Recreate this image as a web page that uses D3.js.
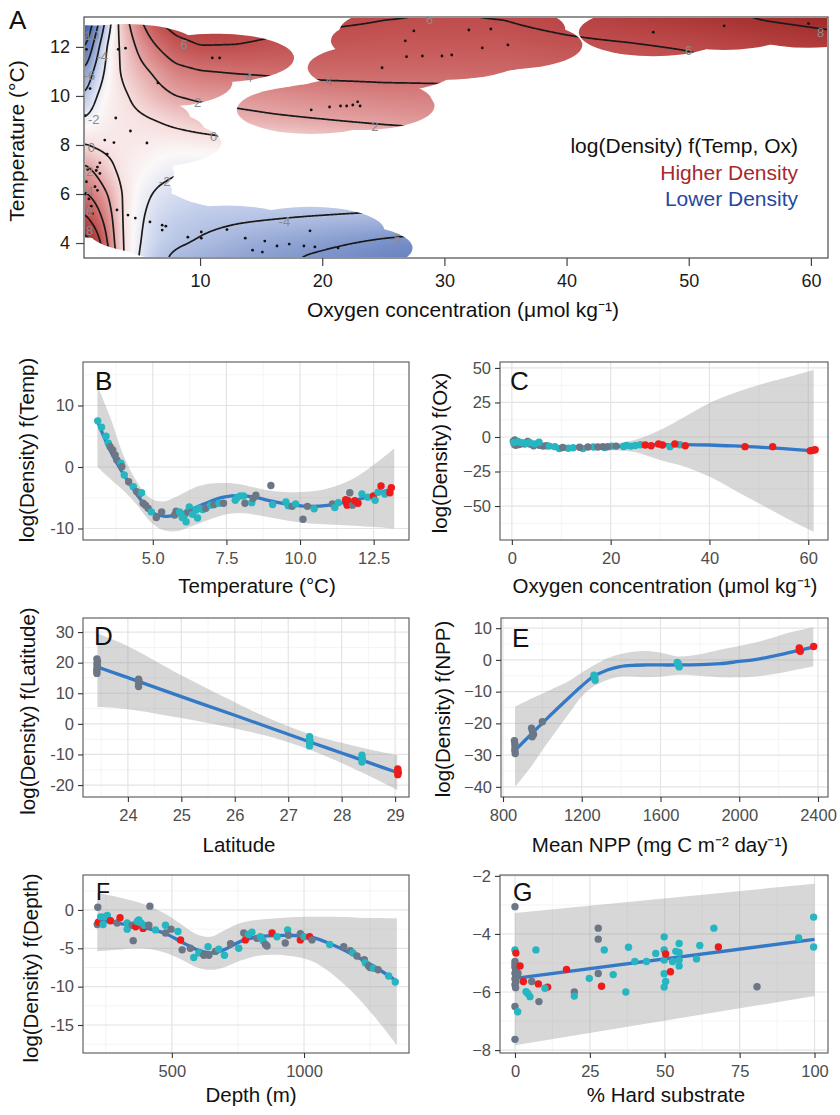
<!DOCTYPE html>
<html><head><meta charset="utf-8">
<script src="https://cdn.jsdelivr.net/npm/d3@7"></script>
<style>
body{margin:0;background:#fff}
svg text{font-family:"Liberation Sans",Arial,sans-serif}
</style></head>
<body><svg id="chart" width="840" height="1115"></svg>
<script>
// ================= DATA =================
// Panel A: fitted surface log(Density) f(Temp, Ox), read on a coarse grid
const oxGrid = [0.5, 1.5, 2.5, 3.5, 5, 6.5, 8, 10, 13, 16, 20, 25, 30, 35, 40, 45, 50, 55, 61.4];
const tempGrid = [3.39, 4, 5, 6, 7, 8, 9, 10, 11, 12, 13.22];
const surfaceByTemp = [
  [10.8, 8.5, 4.5, 0.4, -2.1, -3.7, -4.3, -4.7, -5.3, -5.8, -6.3, -6.9, -7.3, -7.5, -7.6, -7.6, -7.6, -7.6, -7.6],
  [9.2, 7.3, 3.7, 0.3, -1.9, -3.2, -3.8, -4.15, -4.7, -5.2, -5.7, -6.35, -6.8, -7.0, -7.0, -7.0, -7.0, -7.0, -7.0],
  [6.6, 5.0, 2.9, 0.15, -1.7, -2.8, -3.3, -3.6, -3.8, -3.95, -4.2, -4.5, -4.9, -5.0, -5.0, -5.0, -5.0, -5.0, -5.0],
  [4.3, 3.3, 1.9, 0.1, -1.5, -2.2, -2.6, -2.9, -3.0, -2.9, -2.7, -2.7, -2.8, -2.8, -2.7, -2.5, -2.3, -2.1, -1.9],
  [2.6, 1.6, 0.5, -0.4, -1.0, -1.5, -1.8, -1.9, -1.9, -1.7, -1.4, -1.0, -0.8, -0.6, -0.4, -0.1, 0.2, 0.5, 0.8],
  [0.1, -0.3, -0.5, -0.5, -0.6, -0.8, -0.9, -0.8, -0.6, -0.3, 0.1, 0.5, 0.8, 1.1, 1.5, 1.9, 2.2, 2.5, 2.8],
  [-1.8, -1.1, -0.7, -0.5, -0.3, 0.0, 0.4, 0.85, 1.45, 1.7, 1.95, 2.3, 2.6, 2.8, 3.0, 3.3, 3.6, 3.9, 4.2],
  [-4.0, -2.0, -0.9, -0.4, 0.5, 1.4, 2.0, 2.4, 2.55, 2.8, 3.1, 3.4, 3.5, 3.6, 4.0, 4.4, 4.7, 5.0, 5.3],
  [-6.0, -3.3, -1.3, 0.1, 1.4, 2.4, 3.4, 3.9, 4.15, 4.3, 4.5, 4.5, 4.5, 4.55, 4.8, 5.2, 5.5, 5.9, 6.3],
  [-8.6, -4.8, -1.5, 0.2, 2.4, 4.0, 5.3, 5.95, 5.9, 5.6, 5.4, 5.3, 5.3, 5.3, 5.6, 5.8, 6.1, 6.6, 7.2],
  [-11.5, -7.2, -3.0, 0.8, 3.8, 6.3, 7.2, 7.4, 7.2, 6.8, 6.4, 6.1, 6.0, 6.1, 6.6, 7.1, 7.6, 8.1, 8.6]
];
const contourLevels = [-10, -8, -6, -4, -2, 0, 2, 4, 6, 8];
// observations (oxygen, temperature)
const obsA = [[0.7,11.9],[1.0,10.3],[0.6,9.2],[3.3,11.9],[3.9,11.95],[3.1,9.1],[2.2,8.2],[2.95,8.1],[4.3,8.57],[5.65,8.08],
 [2.4,7.63],[1.8,7.27],[1.6,7.1],[1.5,6.96],[1.8,6.84],[1.4,6.3],[1.6,6.15],[0.8,7.0],[0.7,6.5],[0.9,5.8],[1.1,5.5],[0.6,6.0],[1.2,5.2],
 [6.55,10.53],[11.0,11.55],[11.6,11.55],[3.2,5.35],[4.1,5.14],[4.7,5.02],[5.9,4.86],[6.9,4.73],[7.2,4.69],[6.9,4.53],[9.0,4.24],
 [10.1,4.45],[10.1,4.2],[12.2,4.55],[13.7,4.2],[15.3,4.08],[14.3,3.71],[15.1,3.63],[16.3,3.88],[17.3,3.96],[18.5,3.88],[19.0,4.5],
 [19.4,3.84],[21.3,3.8],
 [19.1,9.43],[20.6,9.55],[21.5,9.59],[22.0,9.59],[22.5,9.63],[22.9,9.76],[23.1,9.59],
 [24.9,11.15],[26.8,12.25],[27.5,12.65],[26.9,11.6],[28.2,11.63],[29.8,11.63],[30.6,11.67],[32.0,12.69],[33.8,12.73],[33.1,11.96],[35.2,12.08],
 [47.1,12.6],[52.9,12.86],[59.8,12.95]];
const contourLabels = [[6,8.7,12.1],[4,14.0,10.75],[2,9.8,9.75],[0,11.1,8.35],[-2,7.1,6.5],[-4,16.9,4.9],[-6,26.0,4.2],
 [4,20.5,10.6],[2,24.3,8.75],[6,28.8,13.1],[6,50.0,11.85],[8,60.8,12.6],
 [-2,1.3,9.05],[0,1.1,7.9],[-6,0.95,10.85],[-4,2.0,11.6],[-10,0.95,12.45],[2,0.95,6.9],[4,0.95,6.1],[6,0.95,5.3],[8,0.95,4.5]];
const oxTicksA = [10, 20, 30, 40, 50, 60];
const tempTicksA = [4, 6, 8, 10, 12];
const legendLines = ["log(Density) f(Temp, Ox)", "Higher Density", "Lower Density"];

// Panel B: temperature
const tempX = [3.12, 3.57, 4.02, 4.47, 4.92, 5.37, 5.82, 6.39, 6.95, 7.4, 7.96, 8.52, 9.09, 9.65, 10.33, 11.0, 11.68, 12.35, 13.2];
const tempFit = [7.4, 2.5, -1.3, -4.5, -7.2, -8.0, -7.8, -6.7, -5.6, -4.9, -4.6, -5.0, -5.6, -6.1, -6.4, -6.2, -5.6, -4.8, -3.4];
const tempUpper = [13.2, 7.9, 1.7, -2.5, -5.1, -5.6, -4.8, -3.4, -2.7, -2.6, -2.8, -3.4, -3.9, -4.1, -4.0, -3.4, -2.2, -0.2, 3.0];
const tempLower = [0.0, -2.0, -3.9, -6.2, -8.9, -10.3, -10.4, -9.5, -8.5, -7.8, -7.5, -7.8, -8.3, -8.8, -9.2, -9.35, -9.5, -9.7, -10.0];
const tempPoints = [[3.13,7.5,'t'],[3.26,6.45,'t'],[3.41,5.0,'t'],[3.49,3.85,'t'],[3.55,3.3,'g'],[3.64,2.76,'g'],[3.72,1.95,'g'],[3.78,1.14,'g'],
 [3.92,0.6,'t'],[3.95,0.05,'g'],[4.03,-1.3,'t'],[4.18,-2.4,'g'],[4.34,-3.2,'t'],[4.45,-4.0,'g'],[4.54,-4.4,'g'],[4.62,-4.2,'t'],[4.67,-5.9,'g'],
 [4.75,-6.2,'g'],[4.84,-6.7,'g'],[4.95,-7.3,'t'],[5.12,-8.2,'g'],[5.3,-7.3,'g'],[5.79,-7.2,'g'],[5.74,-7.8,'g'],[5.91,-7.3,'t'],[6.0,-8.2,'t'],
 [6.08,-7.8,'t'],[6.13,-8.9,'t'],[6.19,-7.3,'g'],[6.24,-6.5,'t'],[6.3,-7.4,'g'],[6.35,-7.7,'t'],[6.47,-7.0,'t'],[6.52,-8.3,'t'],[6.58,-6.7,'t'],
 [6.7,-6.9,'t'],[6.8,-6.7,'g'],[6.97,-6.2,'t'],[7.08,-6.1,'g'],[7.25,-5.9,'t'],[7.4,-5.9,'g'],[7.8,-5.4,'t'],[7.86,-5.0,'t'],[7.97,-4.7,'t'],
 [8.08,-4.7,'t'],[8.13,-5.9,'g'],[8.36,-5.8,'t'],[8.41,-5.1,'g'],[8.5,-4.6,'g'],[9.01,-3.0,'g'],[9.07,-6.1,'t'],[9.52,-5.7,'t'],[9.6,-6.3,'t'],
 [9.73,-6.4,'g'],[9.85,-6.0,'t'],[10.1,-8.5,'g'],[10.25,-6.4,'g'],[10.48,-6.8,'t'],[11.1,-6.0,'g'],[11.18,-6.6,'t'],[11.3,-5.8,'t'],
 [11.55,-5.3,'r'],[11.58,-5.8,'r'],[11.6,-6.2,'r'],[11.63,-5.5,'r'],[11.69,-4.2,'g'],[11.78,-6.2,'g'],[11.86,-5.5,'r'],[11.97,-5.9,'r'],
 [12.1,-4.4,'t'],[12.3,-4.9,'t'],[12.49,-4.7,'r'],[12.55,-5.4,'t'],[12.65,-4.1,'t'],[12.75,-3.1,'r'],[12.88,-4.4,'t'],[13.05,-4.2,'r'],[13.1,-3.35,'r']];

// Panel C: oxygen
const oxX = [0, 5, 10, 15, 20, 25, 30, 35, 40, 45, 50, 55, 61.1];
const oxFit = [-4.5, -6.0, -7.2, -7.5, -7.2, -6.3, -5.6, -5.5, -5.8, -6.5, -7.4, -8.5, -10.0];
const oxUpper = [-1.5, -4.3, -5.8, -6.0, -5.0, -2.0, 5.0, 14.7, 24.6, 31.9, 37.7, 42.5, 48.5];
const oxLower = [-7.5, -7.6, -8.5, -9.0, -9.6, -11.0, -16.7, -21.5, -28.7, -38.4, -48.0, -57.7, -68.6];
const oxPoints = [[0.3,-3.0,'g'],[0.5,-5.2,'g'],[0.6,-2.2,'g'],[0.8,-6.0,'g'],[1.0,-4.2,'g'],[1.2,-3.4,'g'],[1.5,-5.5,'g'],[1.9,-4.6,'g'],
 [2.6,-5.0,'g'],[3.2,-3.3,'g'],[3.8,-5.2,'g'],[4.4,-6.3,'g'],[5.0,-5.4,'g'],[5.7,-6.1,'g'],[6.3,-6.6,'g'],[7.0,-6.4,'g'],
 [0.4,-4.0,'t'],[1.3,-3.5,'t'],[2.1,-4.1,'t'],[2.9,-4.6,'t'],[3.6,-4.0,'t'],[4.6,-5.0,'t'],[5.5,-3.8,'t'],[7.6,-6.6,'t'],[8.7,-7.0,'t'],
 [9.6,-8.4,'t'],[11.4,-8.2,'t'],[12.4,-7.8,'t'],[14.4,-8.4,'t'],[16.5,-7.2,'t'],[18.8,-7.6,'t'],[20.2,-6.6,'t'],[22.6,-6.9,'t'],[23.2,-6.2,'t'],
 [24.1,-6.6,'t'],[25.0,-6.2,'t'],[26.0,-5.6,'t'],[32.0,-7.0,'t'],[34.0,-5.6,'t'],
 [10.3,-7.6,'g'],[13.7,-7.4,'g'],[15.4,-7.2,'g'],[17.4,-7.3,'g'],[18.4,-7.0,'g'],[19.4,-7.0,'g'],[21.1,-6.6,'g'],
 [27.0,-5.8,'r'],[28.2,-6.3,'r'],[29.7,-5.1,'r'],[30.5,-5.8,'r'],[33.0,-5.1,'r'],[35.1,-6.3,'r'],[47.2,-7.0,'r'],[52.8,-7.0,'r'],
 [60.4,-10.0,'r'],[61.0,-9.6,'r'],[61.4,-9.2,'r']];

// Panel D: latitude
const latX = [23.43, 24, 25, 26, 26.5, 27, 27.5, 28, 28.5, 29.04];
const latFit = [18.6, 15.1, 8.9, 2.8, -0.3, -3.4, -6.5, -9.5, -12.6, -15.9];
const latUpper = [29.5, 25.4, 15.9, 7.1, 2.9, -0.8, -3.9, -6.2, -8.3, -10.2];
const latLower = [5.5, 4.8, 1.9, -1.5, -3.5, -6.0, -9.1, -12.8, -16.9, -21.6];
const latPoints = [[23.42,16.5,'g'],[23.42,17.3,'g'],[23.42,18.0,'g'],[23.43,18.8,'g'],[23.42,19.6,'g'],[23.43,20.4,'g'],[23.42,21.2,'g'],
 [24.2,12.2,'g'],[24.2,13.0,'g'],[24.21,13.8,'g'],[24.2,14.6,'g'],
 [27.4,-4.2,'t'],[27.4,-5.0,'t'],[27.41,-5.8,'t'],[27.4,-6.6,'t'],[27.4,-7.2,'t'],
 [28.38,-10.2,'t'],[28.38,-11.0,'t'],[28.39,-11.8,'t'],[28.38,-12.5,'t'],
 [29.05,-14.7,'r'],[29.05,-15.3,'r'],[29.06,-16.0,'r'],[29.05,-16.6,'r']];

// Panel E: NPP
const nppX = [861, 950, 1005, 1075, 1140, 1200, 1259, 1330, 1394, 1460, 1530, 1610, 1691, 1800, 1902, 2000, 2072, 2160, 2241, 2310, 2376];
const nppFit = [-28.5, -23.0, -19.6, -15.4, -11.6, -8.2, -5.3, -3.2, -2.1, -1.7, -1.6, -1.6, -1.6, -1.5, -1.2, -0.5, 0.0, 1.0, 2.1, 3.1, 4.0];
const nppUpper = [-14.8, -12.0, -10.5, -8.5, -6.5, -4.0, -1.8, 0.5, 1.8, 2.6, 2.8, 2.2, 1.1, 1.8, 3.2, 4.4, 5.3, 6.8, 8.4, 9.4, 10.3];
const nppLower = [-40.0, -33.0, -28.0, -22.0, -16.5, -11.5, -8.4, -6.3, -5.3, -5.3, -5.5, -5.2, -4.7, -5.0, -5.5, -5.5, -5.3, -4.6, -3.7, -2.9, -2.1];
const nppPoints = [[858,-25.5,'g'],[860,-26.5,'g'],[861,-27.5,'g'],[860,-28.5,'g'],[862,-29.5,'g'],
 [945,-21.5,'g'],[950,-22.5,'g'],[955,-23.5,'g'],[948,-24.2,'g'],[1000,-19.5,'g'],
 [1262,-4.8,'t'],[1265,-5.6,'t'],[1268,-6.4,'t'],[1265,-5.2,'t'],
 [1685,-0.8,'t'],[1690,-1.5,'t'],[1695,-2.2,'t'],[1690,-1.1,'t'],
 [2305,3.0,'r'],[2305,3.8,'r'],[2310,2.7,'r'],[2378,4.2,'r']];

// Panel F: depth
const depthX = [218, 293, 382, 470, 533, 596, 646, 696, 760, 822, 923, 1024, 1112, 1200, 1276, 1351];
const depthFit = [-1.3, -1.7, -2.2, -3.0, -4.1, -5.2, -5.6, -5.2, -4.1, -3.5, -3.3, -3.5, -4.6, -6.1, -7.6, -9.3];
const depthUpper = [2.2, 1.7, 0.9, -0.4, -1.8, -3.2, -3.5, -2.7, -1.7, -1.3, -1.0, -0.9, -0.9, -1.0, -1.05, -1.1];
const depthLower = [-5.4, -5.2, -5.0, -5.5, -6.4, -7.5, -7.8, -7.5, -6.6, -6.0, -5.9, -6.6, -8.5, -11.3, -14.3, -17.6];
const depthPoints = [[220,0.35,'g'],[218,-1.9,'g'],[222,-1.6,'r'],[231,-0.9,'t'],[246,-0.9,'t'],[256,-0.7,'t'],[240,-1.9,'t'],[268,-1.4,'r'],
 [293,-1.7,'g'],[304,-1.0,'r'],[331,-1.7,'t'],[331,-2.5,'t'],[350,-2.0,'g'],[354,-4.0,'g'],[363,-2.2,'r'],[369,-1.5,'t'],[375,-1.3,'t'],
 [383,-1.7,'t'],[391,-2.4,'r'],[395,-2.0,'t'],[417,0.5,'g'],[413,-2.0,'g'],[438,-2.6,'t'],[476,-2.0,'t'],[476,-3.0,'g'],[497,-2.5,'g'],
 [523,-2.8,'t'],[533,-3.9,'r'],[539,-5.2,'g'],[570,-5.0,'g'],[583,-6.2,'t'],[602,-5.6,'t'],[621,-5.9,'g'],[637,-4.8,'t'],[640,-5.9,'g'],
 [665,-5.4,'g'],[677,-5.1,'t'],[699,-5.9,'t'],[722,-4.4,'g'],[753,-5.0,'t'],[772,-3.0,'g'],[778,-3.9,'r'],[790,-3.2,'t'],[803,-2.9,'t'],
 [822,-3.7,'g'],[835,-3.5,'t'],[845,-4.0,'t'],[854,-4.5,'g'],[860,-4.7,'g'],[879,-3.0,'r'],[898,-3.5,'t'],[929,-4.3,'g'],[938,-2.6,'t'],
 [941,-3.3,'g'],[986,-3.9,'r'],[986,-3.1,'g'],[1000,-3.5,'t'],[1021,-3.5,'r'],[1030,-3.9,'g'],[1097,-4.5,'t'],[1150,-4.8,'g'],[1175,-5.3,'g'],
 [1185,-5.6,'t'],[1200,-6.0,'g'],[1228,-6.5,'g'],[1232,-6.9,'t'],[1244,-7.3,'g'],[1250,-7.5,'g'],[1263,-7.6,'t'],[1280,-7.8,'g'],
 [1320,-8.6,'t'],[1345,-9.4,'t']];

// Panel G: hard substrate
const hardX = [0, 100];
const hardFit = [-5.53, -4.19];
const hardUpper = [-3.28, -2.27];
const hardLower = [-7.83, -6.14];
const hardPoints = [[0,-3.06,'g'],[0,-4.95,'g'],[0,-5.05,'g'],[0,-5.15,'g'],[0.3,-5.25,'g'],[0,-5.35,'g'],[0.4,-5.45,'g'],[0,-5.55,'g'],
 [0.3,-5.65,'g'],[0,-5.75,'g'],[0.2,-5.85,'g'],[0.5,-5.3,'g'],[0.8,-5.45,'g'],[1.0,-5.35,'g'],[0,-6.5,'g'],[0,-7.63,'g'],
 [0,-4.55,'t'],[0.3,-4.66,'r'],[0.9,-6.68,'t'],[1.7,-5.1,'r'],[2.8,-5.64,'r'],[3.7,-5.99,'t'],[5,-6.16,'t'],[4.3,-6.05,'t'],
 [5.6,-5.64,'g'],[7,-4.55,'t'],[7.8,-5.72,'r'],[8,-6.33,'g'],[10.9,-5.83,'r'],[10,-5.87,'t'],[17.2,-5.22,'r'],[19.8,-6.0,'g'],
 [19.8,-6.14,'t'],[24.8,-5.53,'t'],[27.8,-3.8,'g'],[27.8,-4.18,'g'],[27.8,-5.36,'g'],[28.9,-5.8,'r'],[29.8,-4.55,'t'],[32.8,-5.4,'t'],
 [37,-6.0,'t'],[37.9,-4.46,'t'],[40,-4.95,'t'],[43.9,-4.95,'t'],[47,-4.67,'t'],[49.8,-4.1,'t'],[49.8,-4.55,'t'],[49.8,-4.9,'t'],
 [49.8,-5.37,'t'],[49.8,-5.83,'t'],[50.3,-4.69,'r'],[50.3,-5.64,'t'],[51.9,-5.3,'r'],[52.6,-4.95,'t'],[53.7,-4.6,'t'],[54.8,-4.33,'t'],
 [54.8,-4.64,'t'],[54.8,-4.9,'t'],[54.8,-5.1,'t'],[60.6,-4.86,'t'],[61.7,-4.4,'t'],[66.4,-3.8,'t'],[67.9,-4.45,'r'],[80.8,-5.82,'g'],
 [94.7,-4.14,'t'],[99.7,-3.42,'t'],[99.7,-4.45,'t']];

// ================= STYLE =================
const groupColor = {g: "#6b7686", t: "#26b6c1", r: "#ee1b1b"};
const LINE_COLOR = "#3479c6";
const FONT = "Liberation Sans, Arial, sans-serif";

const svg = d3.select("#chart");
svg.append("rect").attr("width", 840).attr("height", 1115).attr("fill", "#fff");
const defs = svg.append("defs");
function clipRect(id, x, y, w, h) {
  defs.append("clipPath").attr("id", id).append("rect").attr("x", x).attr("y", y).attr("width", w).attr("height", h);
}

// ================= PANEL A =================
(function () {
  const A = {left: 84, right: 828, top: 17, bottom: 258};
  const W = A.right - A.left, H = A.bottom - A.top;
  const xA = d3.scaleLinear([0.5, 61.4], [A.left, A.right]);
  const yA = d3.scaleLinear([3.39, 13.22], [A.bottom, A.top]);
  const color = d3.scaleLinear()
    .domain([-11, -7, -5, -3, -1.2, 0, 2, 4, 6, 9])
    .range(["#2c54a6", "#6a84c2", "#98abd7", "#cbd5ee", "#fbf8f8", "#f6dcdc", "#e4a4a4", "#d27272", "#bf4c4c", "#9a2323"])
    .clamp(true);

  function fieldAt(ox, t) {
    let i = d3.bisectRight(oxGrid, ox) - 1; i = Math.max(0, Math.min(oxGrid.length - 2, i));
    let j = d3.bisectRight(tempGrid, t) - 1; j = Math.max(0, Math.min(tempGrid.length - 2, j));
    const fx = Math.max(0, Math.min(1, (ox - oxGrid[i]) / (oxGrid[i + 1] - oxGrid[i])));
    const fy = Math.max(0, Math.min(1, (t - tempGrid[j]) / (tempGrid[j + 1] - tempGrid[j])));
    const r0 = surfaceByTemp[j], r1 = surfaceByTemp[j + 1];
    return (r0[i] * (1 - fx) + r0[i + 1] * fx) * (1 - fy) + (r1[i] * (1 - fx) + r1[i + 1] * fx) * fy;
  }
  const vals = new Float64Array(W * H);
  for (let r = 0; r < H; r++) {
    const t = yA.invert(A.top + r + 0.5);
    for (let c = 0; c < W; c++) vals[r * W + c] = fieldAt(xA.invert(A.left + c + 0.5), t);
  }
  if (d3.blur2) d3.blur2({data: vals, width: W, height: H}, 3);

  const canvas = document.createElement("canvas");
  canvas.width = W; canvas.height = H;
  const ctx = canvas.getContext("2d");
  const img = ctx.createImageData(W, H);
  for (let k = 0; k < W * H; k++) {
    const c = d3.rgb(color(vals[k]));
    img.data[4 * k] = c.r; img.data[4 * k + 1] = c.g; img.data[4 * k + 2] = c.b; img.data[4 * k + 3] = 255;
  }
  ctx.putImageData(img, 0, 0);

  clipRect("clipAin", A.left + 1, A.top + 1, W - 2, H - 2);
  clipRect("clipA", A.left, A.top, W, H);
  const rx = xA(0.5 + 0.1 * (61.4 - 0.5)) - xA(0.5);
  const ry = yA(3.39) - yA(3.39 + 0.1 * (13.22 - 3.39));
  defs.append("clipPath").attr("id", "maskA").selectAll("ellipse").data(obsA).join("ellipse")
    .attr("cx", d => xA(d[0])).attr("cy", d => yA(d[1])).attr("rx", rx).attr("ry", ry);

  const gA = svg.append("g").attr("clip-path", "url(#clipAin)");
  const gM = gA.append("g").attr("clip-path", "url(#maskA)");
  gM.append("image").attr("x", A.left).attr("y", A.top).attr("width", W).attr("height", H)
    .attr("preserveAspectRatio", "none").attr("href", canvas.toDataURL());
  const contours = d3.contours().size([W, H]).thresholds(contourLevels)(vals);
  gM.append("g").attr("transform", `translate(${A.left},${A.top})`)
    .selectAll("path").data(contours).join("path")
    .attr("d", d3.geoPath()).attr("fill", "none").attr("stroke", "#1a1a1a").attr("stroke-width", 1.7);

  // data points
  svg.append("g").attr("clip-path", "url(#clipA)").selectAll("circle").data(obsA).join("circle")
    .attr("cx", d => xA(d[0])).attr("cy", d => yA(d[1])).attr("r", 1.4).attr("fill", "#111");

  // contour labels
  svg.append("g").attr("clip-path", "url(#clipA)").selectAll("text").data(contourLabels).join("text")
    .attr("x", d => xA(d[1])).attr("y", d => yA(d[2])).attr("dy", "0.35em")
    .attr("text-anchor", "middle").attr("font-size", 13).attr("fill", "#8a8a8a")
    .text(d => d[0] < 0 ? "-" + (-d[0]) : d[0]);

  // border
  svg.append("rect").attr("x", A.left).attr("y", A.top).attr("width", W).attr("height", H)
    .attr("fill", "none").attr("stroke", "#4a4a4a").attr("stroke-width", 1.2);

  const ax1 = svg.append("g").attr("transform", `translate(${A.left},0)`)
    .call(d3.axisLeft(yA).tickValues(tempTicksA).tickSize(8).tickPadding(6).tickSizeOuter(0));
  const ax2 = svg.append("g").attr("transform", `translate(0,${A.bottom})`)
    .call(d3.axisBottom(xA).tickValues(oxTicksA).tickSize(8).tickPadding(8).tickSizeOuter(0));
  [ax1, ax2].forEach(a => {
    a.select(".domain").remove();
    a.attr("font-family", FONT).attr("font-size", 18);
    a.selectAll(".tick line").attr("stroke", "#444").attr("stroke-width", 1.2);
    a.selectAll(".tick text").attr("fill", "#1a1a1a");
  });

  svg.append("text").attr("x", 9).attr("y", 29).attr("font-size", 26).attr("fill", "#111").text("A");
  svg.append("text").attr("transform", "translate(24,141) rotate(-90)").attr("text-anchor", "middle")
    .attr("font-size", 21).attr("fill", "#111").text("Temperature (°C)");
  svg.append("text").attr("x", 463).attr("y", 317).attr("text-anchor", "middle")
    .attr("font-size", 21).attr("fill", "#111").text("Oxygen concentration (μmol kg⁻¹)");
  const legColors = ["#111", "#a8282c", "#27479e"];
  svg.append("g").selectAll("text").data(legendLines).join("text")
    .attr("x", 798).attr("y", (d, i) => 153 + i * 26.5).attr("text-anchor", "end")
    .attr("font-size", 21).attr("fill", (d, i) => legColors[i]).text(d => d);
})();

// ================= GAM PANELS B-G =================
const fmtHyphen = d => String(d);
const fmtMinus = d => d < 0 ? "\u2212" + (-d) : String(d);

function drawGam(p) {
  const x = d3.scaleLinear(p.xd, [p.l, p.r]);
  const y = d3.scaleLinear(p.yd, [p.b, p.t]);
  const g = svg.append("g");
  const cid = "clip" + p.letter;
  clipRect(cid, p.l, p.t, p.r - p.l, p.b - p.t);
  g.append("rect").attr("x", p.l).attr("y", p.t).attr("width", p.r - p.l).attr("height", p.b - p.t).attr("fill", "#fff");
  const grid = g.append("g");
  const vl = (cls, data, col, w) => grid.selectAll("line." + cls).data(data).join("line").attr("class", cls)
    .attr("x1", d => x(d)).attr("x2", d => x(d)).attr("y1", p.t).attr("y2", p.b).attr("stroke", col).attr("stroke-width", w);
  const hl = (cls, data, col, w) => grid.selectAll("line." + cls).data(data).join("line").attr("class", cls)
    .attr("y1", d => y(d)).attr("y2", d => y(d)).attr("x1", p.l).attr("x2", p.r).attr("stroke", col).attr("stroke-width", w);
  vl("vmin", p.xMin, "#f1f1f1", 0.8); hl("hmin", p.yMin, "#f1f1f1", 0.8);
  vl("vmaj", p.xMaj, "#e4e4e4", 1.2); hl("hmaj", p.yMaj, "#e4e4e4", 1.2);

  const body = g.append("g").attr("clip-path", `url(#${cid})`);
  const rows = p.cx.map((v, i) => ({x: v, f: p.fit[i], lo: p.lo[i], hi: p.hi[i]}));
  const curve = p.cx.length > 2 ? d3.curveCatmullRom.alpha(0.5) : d3.curveLinear;
  body.append("path").datum(rows)
    .attr("d", d3.area().x(d => x(d.x)).y0(d => y(d.lo)).y1(d => y(d.hi)).curve(curve))
    .attr("fill", "#9a9a9a").attr("fill-opacity", 0.4);
  body.append("path").datum(rows)
    .attr("d", d3.line().x(d => x(d.x)).y(d => y(d.f)).curve(curve))
    .attr("fill", "none").attr("stroke", LINE_COLOR).attr("stroke-width", 3.3);
  body.append("g").selectAll("circle").data(p.pts).join("circle")
    .attr("cx", d => x(d[0])).attr("cy", d => y(d[1])).attr("r", 3.7)
    .attr("fill", d => groupColor[d[2]]);

  g.append("rect").attr("x", p.l).attr("y", p.t).attr("width", p.r - p.l).attr("height", p.b - p.t)
    .attr("fill", "none").attr("stroke", "#555").attr("stroke-width", 1.1);

  const ay = g.append("g").attr("transform", `translate(${p.l},0)`)
    .call(d3.axisLeft(y).tickValues(p.yMaj).tickFormat(p.yFmt).tickSize(5).tickPadding(4).tickSizeOuter(0));
  const ax = g.append("g").attr("transform", `translate(0,${p.b})`)
    .call(d3.axisBottom(x).tickValues(p.xMaj).tickFormat(p.xFmt).tickSize(5).tickPadding(7).tickSizeOuter(0));
  [ay, ax].forEach(a => {
    a.select(".domain").remove();
    a.attr("font-family", FONT).attr("font-size", 16.5);
    a.selectAll(".tick line").attr("stroke", "#333").attr("stroke-width", 1.1);
    a.selectAll(".tick text").attr("fill", "#4d4d4d");
  });

  g.append("text").attr("x", p.xtx).attr("y", p.xty).attr("text-anchor", "middle")
    .attr("font-size", 20.5).attr("fill", "#111").text(p.xTitle);
  const yt = g.append("text").attr("transform", `translate(${p.ytx},${p.yty}) rotate(-90)`).attr("text-anchor", "middle")
    .attr("font-size", 20.5).attr("fill", "#111").text(p.yTitle);
  if (p.yClip) { clipRect("yclip" + p.letter, 0, p.yClip, 840, 1115 - p.yClip); yt.attr("clip-path", `url(#yclip${p.letter})`); }
  g.append("text").attr("x", p.lx).attr("y", p.ly).attr("font-family", "Lato, 'Open Sans', sans-serif")
    .attr("font-size", p.lsize || 26).attr("fill", "#111").text(p.letter);
}

drawGam({letter: "B", l: 83, r: 409, t: 362, b: 540, xd: [2.63, 13.7], yd: [-11.87, 17.07],
  xMaj: [5, 7.5, 10, 12.5], xMin: [3.75, 6.25, 8.75, 11.25], yMaj: [-10, 0, 10], yMin: [-5, 5, 15],
  xFmt: d3.format(".1f"), yFmt: fmtHyphen, cx: tempX, fit: tempFit, lo: tempLower, hi: tempUpper, pts: tempPoints,
  xTitle: "Temperature (°C)", yTitle: "log(Density) f(Temp)", xtx: 257, xty: 593, ytx: 34, yty: 450, lx: 95, ly: 390});

drawGam({letter: "C", l: 500, r: 828, t: 362, b: 540, xd: [-2.4, 64.0], yd: [-74.6, 54.3],
  xMaj: [0, 20, 40, 60], xMin: [10, 30, 50], yMaj: [-50, -25, 0, 25, 50], yMin: [-62.5, -37.5, -12.5, 12.5, 37.5],
  xFmt: fmtHyphen, yFmt: fmtMinus, cx: oxX, fit: oxFit, lo: oxLower, hi: oxUpper, pts: oxPoints,
  xTitle: "Oxygen concentration (μmol kg⁻¹)", yTitle: "log(Density) f(Ox)", xtx: 665, xty: 593, ytx: 447, yty: 453, lx: 510, ly: 390});

drawGam({letter: "D", l: 83, r: 409, t: 618, b: 797, xd: [23.16, 29.26], yd: [-23.9, 34.6],
  xMaj: [24, 25, 26, 27, 28, 29], xMin: [23.5, 24.5, 25.5, 26.5, 27.5, 28.5], yMaj: [-20, -10, 0, 10, 20, 30], yMin: [-15, -5, 5, 15, 25],
  xFmt: fmtHyphen, yFmt: fmtHyphen, cx: latX, fit: latFit, lo: latLower, hi: latUpper, pts: latPoints,
  xTitle: "Latitude", yTitle: "log(Density) f(Latitude)", xtx: 239, xty: 852, ytx: 35, yty: 711, lx: 94, ly: 645});

drawGam({letter: "E", l: 501, r: 828, t: 618, b: 797, xd: [789.8, 2450.8], yd: [-43.2, 13.2],
  xMaj: [800, 1200, 1600, 2000, 2400], xMin: [1000, 1400, 1800, 2200], yMaj: [-40, -30, -20, -10, 0, 10], yMin: [-35, -25, -15, -5, 5],
  xFmt: fmtHyphen, yFmt: fmtMinus, cx: nppX, fit: nppFit, lo: nppLower, hi: nppUpper, pts: nppPoints,
  xTitle: "Mean NPP (mg C m⁻² day⁻¹)", yTitle: "log(Density) f(NPP)", xtx: 660, xty: 852, ytx: 450, yty: 709, lx: 512, ly: 647});

drawGam({letter: "F", l: 83, r: 409, t: 875, b: 1053, xd: [164, 1397], yd: [-18.65, 4.56],
  xMaj: [500, 1000], xMin: [250, 750, 1250], yMaj: [-15, -10, -5, 0], yMin: [-17.5, -12.5, -7.5, -2.5, 2.5],
  xFmt: fmtHyphen, yFmt: fmtHyphen, cx: depthX, fit: depthFit, lo: depthLower, hi: depthUpper, pts: depthPoints,
  xTitle: "Depth (m)", yTitle: "log(Density) f(Depth)", xtx: 251, xty: 1102, ytx: 38, yty: 968, lx: 96, ly: 900, lsize: 23});

drawGam({letter: "G", l: 500, r: 828, t: 875, b: 1053, xd: [-5, 104.5], yd: [-8.1, -1.97],
  xMaj: [0, 25, 50, 75, 100], xMin: [12.5, 37.5, 62.5, 87.5], yMaj: [-8, -6, -4, -2], yMin: [-7, -5, -3],
  xFmt: fmtHyphen, yFmt: fmtMinus, cx: hardX, fit: hardFit, lo: hardLower, hi: hardUpper, pts: hardPoints,
  xTitle: "% Hard substrate", yTitle: "log(Density) f(Hard Sub)", xtx: 666, xty: 1102, ytx: 455, yty: 968, yClip: 848, lx: 513, ly: 901, lsize: 25});
</script>
</body></html>
